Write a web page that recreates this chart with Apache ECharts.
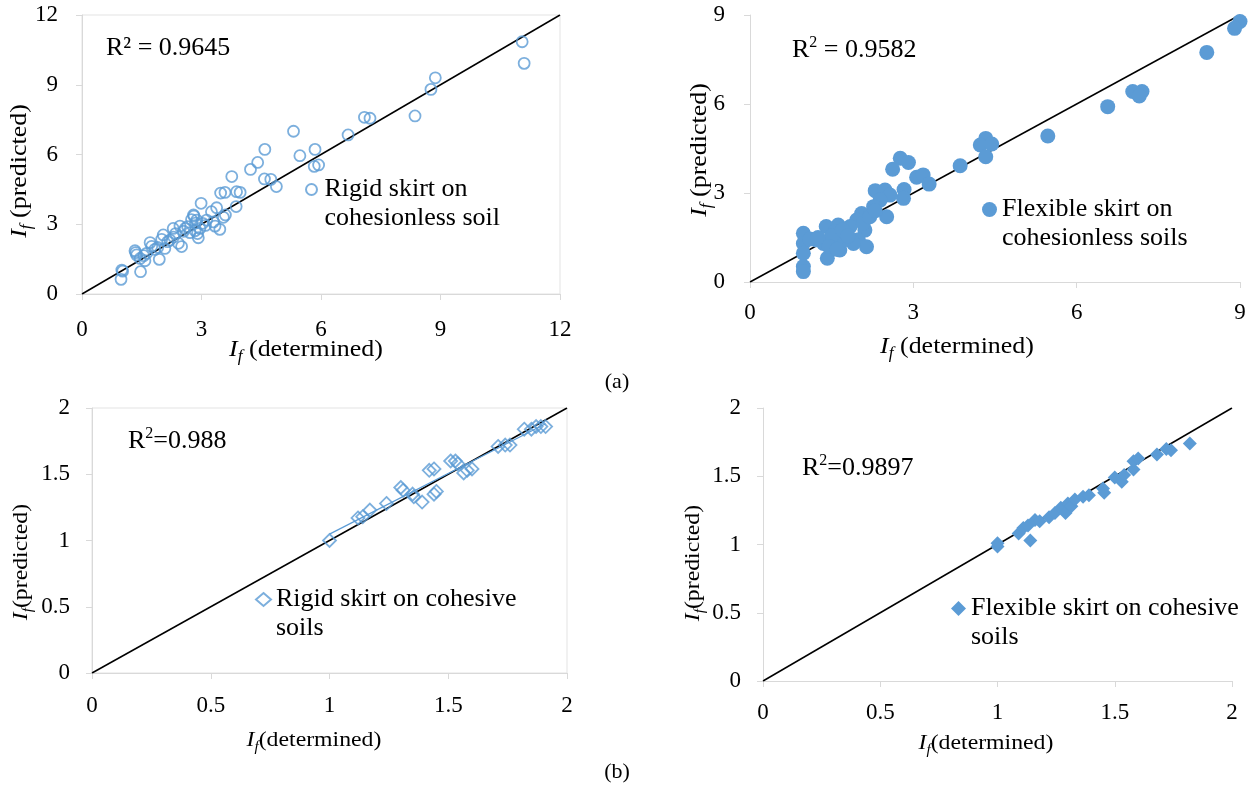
<!DOCTYPE html>
<html>
<head>
<meta charset="utf-8">
<title>If predicted vs determined</title>
<script src="https://cdn.jsdelivr.net/npm/echarts@6/dist/echarts.min.js"></script>
<style>
  html, body { margin: 0; padding: 0; background: #fff; }
  #main { width: 1253px; height: 796px; }
</style>
</head>
<body>
<div id="main"></div>
<script>
// (a) rigid skirt, cohesionless soil  [determined, predicted]
var rigidSand = [
  [11.05,10.85],[11.10,9.92],[8.87,9.30],[8.76,8.80],[8.36,7.66],[7.09,7.60],[7.23,7.56],
  [6.68,6.84],[5.31,7.00],[5.85,6.22],[5.47,5.95],[5.83,5.49],[5.94,5.55],[4.59,6.22],
  [4.41,5.66],[4.23,5.36],[3.76,5.05],[4.58,4.95],[4.74,4.93],[4.88,4.62],[3.48,4.34],
  [3.59,4.37],[3.88,4.40],[3.97,4.37],[3.87,3.76],[2.99,3.90],[3.38,3.71],[3.25,3.54],
  [3.55,3.30],[3.46,2.78],[3.34,2.92],[2.81,3.35],[2.88,3.18],[3.03,3.04],[2.84,2.72],
  [2.92,2.42],[2.71,2.64],[2.46,2.92],[2.29,2.82],[2.50,2.04],[2.42,2.18],[2.04,2.54],
  [2.21,2.32],[2.08,1.96],[1.71,2.21],[1.83,1.92],[1.94,1.49],[1.33,1.86],[1.37,1.68],
  [1.46,1.53],[1.58,1.43],[1.47,0.96],[1.00,1.03],[0.98,0.63],[1.62,1.75],[2.59,2.82],
  [2.96,2.82],[3.13,3.18],[1.35,1.78],[1.55,1.65],[1.75,2.05],[2.00,2.35],[2.15,2.25],
  [2.35,2.60],[2.65,2.90],[2.75,3.20],[2.85,3.05],[3.10,2.95],[3.30,3.10],[2.55,2.70],
  [1.90,2.00],[2.30,2.45],[1.02,0.98],[2.80,3.40],[2.90,2.60],[3.60,3.40]
];
// (a) flexible skirt, cohesionless soils
var flexSand = [
  [9.00,8.78],[8.90,8.55],[8.39,7.74],[7.20,6.42],[7.03,6.42],[7.15,6.27],[6.57,5.91],
  [5.47,4.92],[4.33,4.84],[4.23,4.62],[4.44,4.65],[4.33,4.22],[3.86,3.92],[2.76,4.17],
  [2.91,4.03],[2.62,3.80],[3.06,3.53],[3.18,3.61],[3.29,3.30],[2.83,3.12],[2.82,2.82],
  [2.30,3.08],[2.48,3.10],[2.57,2.93],[2.39,2.76],[2.51,2.20],[2.27,2.54],[2.05,2.31],
  [1.96,2.09],[2.11,1.75],[1.99,1.42],[2.14,1.19],[1.62,1.92],[1.40,1.87],[1.78,1.64],
  [1.65,1.08],[1.42,0.80],[0.98,1.64],[0.98,1.30],[0.98,0.97],[0.98,0.52],[0.98,0.35],
  [1.22,1.42],[1.53,1.42],[1.84,1.87],[1.56,1.70],[1.35,1.30],[1.72,1.42],[1.90,1.30],
  [2.08,1.98],[1.10,1.45],[1.50,1.55],[1.70,1.75],[2.20,2.20],[2.30,2.40],[1.25,1.50],
  [1.45,1.20],[1.60,1.10],[1.80,1.55]
];
// (b) rigid skirt, cohesive soils
var rigidClay = [
  [1.00,1.00],[1.12,1.17],[1.14,1.18],[1.17,1.23],[1.24,1.28],[1.30,1.40],[1.31,1.38],
  [1.35,1.35],[1.355,1.33],[1.39,1.29],[1.42,1.53],[1.44,1.54],[1.45,1.37],[1.44,1.35],
  [1.51,1.60],[1.53,1.60],[1.54,1.58],[1.58,1.53],[1.60,1.54],[1.565,1.51],[1.71,1.71],
  [1.74,1.72],[1.76,1.72],[1.82,1.84],[1.87,1.86],[1.89,1.86],[1.91,1.86],[1.85,1.84]
];
// (b) flexible skirt, cohesive soils
var flexClay = [
  [1.00,0.985],[1.00,1.01],[1.09,1.08],[1.11,1.12],[1.14,1.03],[1.13,1.14],[1.16,1.18],
  [1.18,1.17],[1.22,1.20],[1.245,1.23],[1.27,1.27],[1.29,1.23],[1.30,1.30],[1.315,1.28],
  [1.33,1.33],[1.365,1.35],[1.39,1.36],[1.45,1.41],[1.455,1.38],[1.50,1.49],[1.53,1.46],
  [1.54,1.51],[1.58,1.55],[1.58,1.61],[1.60,1.63],[1.68,1.66],[1.72,1.70],[1.74,1.69],
  [1.82,1.74]
];

var seriesNames = ['Rigid skirt on cohesionless soil', 'Flexible skirt on cohesionless soils',
                   'Rigid skirt on cohesive soils', 'Flexible skirt on cohesive soils'];
var legendLines = ['Rigid skirt on\ncohesionless soil', 'Flexible skirt on\ncohesionless soils',
                   'Rigid skirt on cohesive\nsoils', 'Flexible skirt on cohesive\nsoils'];
var r2Labels = ['0.9645', '0.9582', '0.988', '0.9897'];
var axisMax = [12, 9, 2, 2];
var axisStep = [3, 3, 0.5, 0.5];

var BLUE = '#5B9BD5';
var SERIF = '"Liberation Serif", "Times New Roman", serif';

var chart = echarts.init(document.getElementById('main'));

// least squares trendline over a set of points
function trend(pts) {
  var n = pts.length, sx = 0, sy = 0, sxx = 0, sxy = 0, lo = Infinity, hi = -Infinity;
  pts.forEach(function (p) {
    sx += p[0]; sy += p[1]; sxx += p[0] * p[0]; sxy += p[0] * p[1];
    lo = Math.min(lo, p[0]); hi = Math.max(hi, p[0]);
  });
  var b = (n * sxy - sx * sy) / (n * sxx - sx * sx);
  var a = (sy - b * sx) / n;
  return [[lo, a + b * lo], [hi, a + b * hi]];
}

var grids = [
  {left: 82, top: 15, width: 478, height: 279, show: true},
  {left: 750, top: 15, width: 490, height: 267, show: false},
  {left: 92, top: 408, width: 475, height: 265, show: true},
  {left: 763, top: 408, width: 469, height: 273, show: false}
];
var xMargins = [24, 19, 21, 20];
var yMargins = [24, 25, 22, 22];

function axis(i, isX) {
  return {
    type: 'value', gridIndex: i, min: 0, max: axisMax[i], interval: axisStep[i],
    splitLine: {show: false},
    axisLine: {show: true, onZero: false, lineStyle: {color: '#d9d9d9', width: 1}},
    axisTick: {show: true, length: 6, lineStyle: {color: '#d9d9d9'}},
    axisLabel: {
      color: '#000', fontFamily: SERIF, fontSize: 23,
      margin: isX ? xMargins[i] : yMargins[i]
    }
  };
}

var xAxes = [], yAxes = [];
for (var i = 0; i < 4; i++) { xAxes.push(axis(i, true)); yAxes.push(axis(i, false)); }

function diag(i) {
  return {
    type: 'line', xAxisIndex: i, yAxisIndex: i, silent: true, symbol: 'none', z: 3,
    data: [[0, 0], [axisMax[i], axisMax[i]]],
    lineStyle: {color: '#000', width: 1.5}
  };
}

var series = [
  diag(0), diag(1), diag(2), diag(3),
  {
    name: seriesNames[0], type: 'scatter', xAxisIndex: 0, yAxisIndex: 0, z: 4,
    symbol: 'circle', symbolSize: 11, data: rigidSand,
    itemStyle: {color: 'rgba(255,255,255,0)', borderColor: BLUE, borderWidth: 1.8}
  },
  {
    name: seriesNames[1], type: 'scatter', xAxisIndex: 1, yAxisIndex: 1, z: 4,
    symbol: 'circle', symbolSize: 15, data: flexSand,
    itemStyle: {color: BLUE, opacity: 1}
  },
  {
    name: seriesNames[2], type: 'scatter', xAxisIndex: 2, yAxisIndex: 2, z: 4,
    symbol: 'diamond', symbolSize: 13, data: rigidClay,
    itemStyle: {color: 'rgba(255,255,255,0)', borderColor: BLUE, borderWidth: 1.8}
  },
  {
    name: seriesNames[3], type: 'scatter', xAxisIndex: 3, yAxisIndex: 3, z: 4,
    symbol: 'diamond', symbolSize: 14, data: flexClay,
    itemStyle: {color: BLUE, opacity: 1}
  },
  {
    type: 'line', xAxisIndex: 2, yAxisIndex: 2, silent: true, symbol: 'none', z: 5,
    data: trend(rigidClay), lineStyle: {color: BLUE, width: 1.2}
  }
];

// legends sit inside the plots; a blank first line keeps the icon level with line one
var LH = 29;
var legendPos = [
  {left: 305, icon: 189, w: 16, h: 11},
  {left: 982, icon: 209, w: 15, h: 15},
  {left: 255, icon: 599, w: 15, h: 13},
  {left: 951, icon: 608, w: 15, h: 15}
];
var legends = legendPos.map(function (p, k) {
  return {
    data: [seriesNames[k]], left: p.left, top: Math.round(p.icon - 1.5 * LH), padding: 0,
    itemWidth: p.w, itemHeight: p.h, selectedMode: false,
    formatter: function () { return ' \n' + legendLines[k]; },
    textStyle: {fontFamily: SERIF, fontSize: 26, color: '#000', lineHeight: LH}
  };
});

function nameRich(size) {
  var sub = Math.round(size * 0.65);
  return {
    i: {fontFamily: SERIF, fontStyle: 'italic', fontSize: size, lineHeight: size + 6, verticalAlign: 'middle'},
    s: {fontFamily: SERIF, fontStyle: 'italic', fontSize: sub, lineHeight: sub, verticalAlign: 'bottom'},
    n: {fontFamily: SERIF, fontSize: size, lineHeight: size + 6, verticalAlign: 'middle'}
  };
}
function axisName(x, y, rest, size, vertical) {
  return {
    type: 'text', x: x, y: y, rotation: vertical ? Math.PI / 2 : 0, scaleX: 1.08,
    style: {
      text: '{i|I}{s|f}{n|' + rest + '}', rich: nameRich(size),
      align: 'center', verticalAlign: 'middle', fill: '#000'
    }
  };
}
var supRich = {
  n: {fontFamily: SERIF, fontSize: 26, lineHeight: 30, verticalAlign: 'middle'},
  p: {fontFamily: SERIF, fontSize: 16, lineHeight: 19, verticalAlign: 'top'}
};
function r2(x, y, txt) {
  return {
    type: 'text', x: x, y: y,
    style: {text: txt, rich: supRich, align: 'left', verticalAlign: 'middle', fill: '#000'}
  };
}

var graphics = [
  {type: 'text', x: 106, y: 48, style: {text: 'R\u00b2 = ' + r2Labels[0], font: '26px ' + SERIF, fill: '#000', verticalAlign: 'middle'}},
  r2(792, 50, '{n|R}{p|2}{n| = ' + r2Labels[1] + '}'),
  r2(128, 441, '{n|R}{p|2}{n|=' + r2Labels[2] + '}'),
  r2(802, 468, '{n|R}{p|2}{n|=' + r2Labels[3] + '}'),
  axisName(306, 350, ' (determined)', 24, false),
  axisName(20, 171, ' (predicted)', 24, true),
  axisName(957, 347, ' (determined)', 24, false),
  axisName(700, 150, ' (predicted)', 24, true),
  axisName(314, 740, '(determined)', 22, false),
  axisName(21, 562, '(predicted)', 22, true),
  axisName(986, 743, '(determined)', 22, false),
  axisName(693, 563, '(predicted)', 22, true),
  {type: 'text', x: 617, y: 382, style: {text: '(a)', font: '22px ' + SERIF, fill: '#000', align: 'center', verticalAlign: 'middle'}},
  {type: 'text', x: 617, y: 772, style: {text: '(b)', font: '22px ' + SERIF, fill: '#000', align: 'center', verticalAlign: 'middle'}}
];

var option = {
  backgroundColor: '#fff',
  animation: false,
  grid: grids.map(function (g) {
    return Object.assign({borderColor: '#e3e3e3', borderWidth: 1, backgroundColor: 'transparent'}, g);
  }),
  xAxis: xAxes,
  yAxis: yAxes,
  legend: legends,
  series: series,
  graphic: graphics
};

chart.setOption(option);
</script>
</body>
</html>
